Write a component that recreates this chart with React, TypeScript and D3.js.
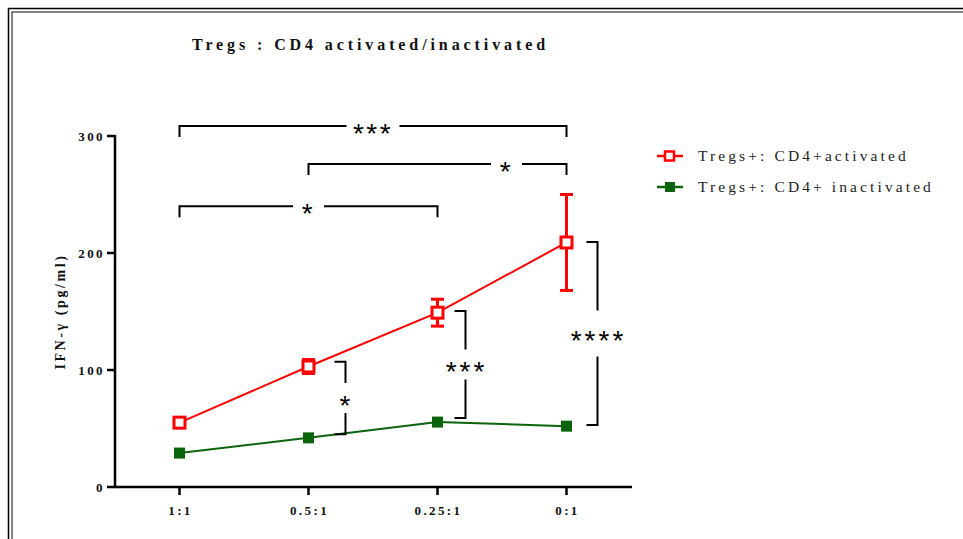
import React from "react";
import * as d3 from "d3";

const categories = ["1:1", "0.5:1", "0.25:1", "0:1"];
const activatedMean = [55, 103, 149, 209];
const activatedErr = [3, 6, 11.5, 41];
const inactivatedMean = [29, 42, 55.5, 52];
const yTicks = [0, 100, 200, 300];
const seriesNames = ["Tregs+: CD4+activated", "Tregs+: CD4+ inactivated"];

// horizontal significance brackets: from category, to category, level (data units), label
const hBrackets = [
  { from: "1:1", to: "0:1", level: 308.5, label: "***" },
  { from: "0.5:1", to: "0:1", level: 276, label: "*" },
  { from: "1:1", to: "0.25:1", level: 240, label: "*" },
];
// vertical significance brackets: at category, top value, bottom value, label
const vBrackets = [
  { at: "0.5:1", top: 107, bottom: 45, label: "*" },
  { at: "0.25:1", top: 150.5, bottom: 59, label: "***" },
  { at: "0:1", top: 209.5, bottom: 53, label: "****" },
];

const RED = "#ff0000";
const GREEN = "#0b640b";

export default function App() {
  const W = 963, H = 539;
  const x = d3.scalePoint<string>().domain(categories).range([115, 631]).padding(0.5);
  const y = d3.scaleLinear().domain([0, 300]).range([487, 136]);
  const line = d3.line<number>().x((_, i) => x(categories[i])!).y((d) => y(d));
  const serif = "'Liberation Serif', 'DejaVu Serif', serif";
  const sans = "'Liberation Sans', Arial, sans-serif";
  const starSize = 28;

  return (
    <svg width={W} height={H} style={{ position: "absolute", left: 0, top: 0, background: "#fff" }}>
      {/* double frame */}
      <rect x={8.5} y={8.5} width={W + 20} height={H + 20} fill="none" stroke="#000" strokeWidth={1.5} />
      <rect x={12} y={12} width={W + 20} height={H + 20} fill="none" stroke="#333" strokeWidth={1.2} />

      {/* title */}
      <text x={192} y={50} fontFamily={serif} fontWeight="bold" fontSize={16} style={{ letterSpacing: "3.9px" }} fill="#111">
        Tregs : CD4  activated/inactivated
      </text>

      {/* y axis */}
      <line x1={115} x2={115} y1={y(300) - 1} y2={y(0) + 1} stroke="#000" strokeWidth={2.5} />
      {yTicks.map((t) => (
        <g key={t}>
          <line x1={107} x2={115} y1={y(t)} y2={y(t)} stroke="#000" strokeWidth={2.5} />
          <text x={105} y={y(t) + 4.5} textAnchor="end" fontFamily={serif} fontWeight="bold" fontSize={13} style={{ letterSpacing: "2.4px" }} fill="#111">
            {t}
          </text>
        </g>
      ))}
      <text
        transform={`translate(65, ${(y(0) + y(300)) / 2}) rotate(-90)`}
        textAnchor="middle"
        fontFamily={serif}
        fontWeight="bold"
        fontSize={14}
        style={{ letterSpacing: "2.6px" }}
        fill="#111"
      >
        IFN-γ (pg/ml)
      </text>

      {/* x axis */}
      <line x1={114} x2={632} y1={y(0)} y2={y(0)} stroke="#000" strokeWidth={2.5} />
      {categories.map((c) => (
        <g key={c}>
          <line x1={x(c)} x2={x(c)} y1={y(0)} y2={y(0) + 8} stroke="#000" strokeWidth={2.5} />
          <text x={x(c)! + 1} y={y(0) + 28} textAnchor="middle" fontFamily={serif} fontWeight="bold" fontSize={13} style={{ letterSpacing: "2.4px" }} fill="#111">
            {c}
          </text>
        </g>
      ))}

      {/* inactivated series */}
      <path d={line(inactivatedMean)!} fill="none" stroke={GREEN} strokeWidth={2} />
      {inactivatedMean.map((v, i) => (
        <rect key={i} x={x(categories[i])! - 5.5} y={y(v) - 5.5} width={11} height={11} fill={GREEN} />
      ))}

      {/* activated series */}
      <path d={line(activatedMean)!} fill="none" stroke={RED} strokeWidth={2} />
      {activatedMean.map((v, i) => {
        const cx = x(categories[i])!;
        const hi = y(v + activatedErr[i]);
        const lo = y(v - activatedErr[i]);
        return (
          <g key={i}>
            <line x1={cx} x2={cx} y1={hi} y2={lo} stroke={RED} strokeWidth={3} />
            <line x1={cx - 6.5} x2={cx + 6.5} y1={hi} y2={hi} stroke={RED} strokeWidth={3} />
            <line x1={cx - 6.5} x2={cx + 6.5} y1={lo} y2={lo} stroke={RED} strokeWidth={3} />
            <rect x={cx - 5.5} y={y(v) - 5.5} width={11} height={11} fill="#fff" stroke={RED} strokeWidth={3} />
          </g>
        );
      })}

      {/* horizontal brackets */}
      {hBrackets.map((b, i) => {
        const x1 = x(b.from)!, x2 = x(b.to)!;
        const yy = y(b.level);
        const mid = (x1 + x2) / 2;
        const gapHalf = b.label.length * 5.5 + 10;
        const cx = b.label.length === 1 && b.from === "0.5:1" ? x2 - 60 : mid;
        return (
          <g key={i}>
            <path d={`M${x1},${yy + 11}V${yy}H${cx - gapHalf}`} fill="none" stroke="#000" strokeWidth={2} />
            <path d={`M${cx + gapHalf},${yy}H${x2}V${yy + 11}`} fill="none" stroke="#000" strokeWidth={2} />
            <text x={cx} y={yy + 17} textAnchor="middle" fontFamily={sans} fontSize={starSize} style={{ letterSpacing: "2.5px" }} fill="#000">
              {b.label}
            </text>
          </g>
        );
      })}

      {/* vertical brackets */}
      {vBrackets.map((b, i) => {
        const cx = x(b.at)!;
        const offs = [37, 28, 31][i];
        const bx = cx + offs;
        const y1 = y(b.top), y2 = y(b.bottom);
        const mid = (y1 + y2) / 2;
        const gapHalf = 15 + (b.label.length > 3 ? 8 : 0);
        return (
          <g key={i}>
            <path d={`M${bx - 11},${y1}H${bx}V${mid - gapHalf}`} fill="none" stroke="#000" strokeWidth={2} />
            <path d={`M${bx},${mid + gapHalf}V${y2}H${bx - 11}`} fill="none" stroke="#000" strokeWidth={2} />
            <text x={bx + 1} y={mid + 17} textAnchor="middle" fontFamily={sans} fontSize={starSize} style={{ letterSpacing: "3px" }} fill="#000">
              {b.label}
            </text>
          </g>
        );
      })}

      {/* legend */}
      {seriesNames.map((n, i) => {
        const ly = 156 + i * 31;
        const col = i === 0 ? RED : GREEN;
        return (
          <g key={n}>
            <line x1={657} x2={683} y1={ly} y2={ly} stroke={col} strokeWidth={2.5} />
            {i === 0 ? (
              <rect x={665} y={ly - 4.5} width={9} height={9} fill="#fff" stroke={col} strokeWidth={2.5} />
            ) : (
              <rect x={665} y={ly - 5} width={10} height={10} fill={col} />
            )}
            <text x={698} y={ly + 5} fontFamily={serif} fontSize={15.5} style={{ letterSpacing: "3.1px" }} fill="#222">
              {n}
            </text>
          </g>
        );
      })}
    </svg>
  );
}
